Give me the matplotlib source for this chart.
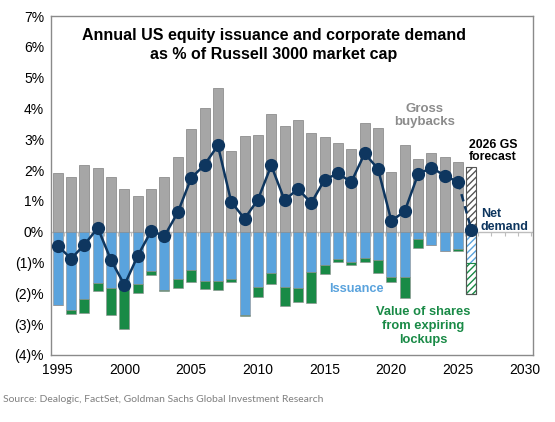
import numpy as np
import matplotlib.pyplot as plt

plt.rcParams['font.family'] = ['Liberation Sans', 'DejaVu Sans']

# data (% of Russell 3000 market cap)
years = list(range(1995, 2027))
buybacks = [1.91, 1.78, 2.18, 2.07, 1.78, 1.40, 1.15, 1.39, 1.76, 2.43,
            3.32, 4.00, 4.65, 2.61, 3.12, 3.15, 3.83, 3.43, 3.64, 3.21,
            3.06, 2.89, 2.67, 3.53, 3.38, 1.95, 2.80, 2.35, 2.54, 2.43,
            2.26, 2.11]
issuance = [2.38, 2.54, 2.19, 1.67, 1.83, 1.83, 1.70, 1.27, 1.89, 1.54,
            1.24, 1.59, 1.59, 1.54, 2.69, 1.81, 1.35, 1.81, 1.84, 1.31,
            1.07, 0.89, 0.97, 0.86, 0.93, 1.48, 1.46, 0.24, 0.43, 0.62,
            0.56, 1.02]
lockups = [0.00, 0.14, 0.44, 0.27, 0.87, 1.32, 0.30, 0.15, 0.04, 0.29,
           0.39, 0.27, 0.29, 0.10, 0.05, 0.32, 0.35, 0.61, 0.43, 0.99,
           0.30, 0.09, 0.10, 0.14, 0.40, 0.15, 0.70, 0.28, 0.00, 0.00,
           0.06, 1.00]
net_demand = [-0.45, -0.88, -0.42, 0.12, -0.93, -1.73, -0.78, 0.02, -0.14, 0.63,
              1.74, 2.17, 2.80, 0.97, 0.42, 1.04, 2.15, 1.02, 1.39, 0.93,
              1.69, 1.89, 1.61, 2.54, 2.04, 0.35, 0.66, 1.86, 2.08, 1.82,
              1.61, 0.06]

yticks = list(range(-4, 8))
ylabels = ['(%d)%%' % -v if v < 0 else '%d%%' % v for v in yticks]
xticks = [1995, 2000, 2005, 2010, 2015, 2020, 2025, 2030]

grey = '#A6A6A6'
blue = '#5AA3DD'
green = '#198A46'
navy = '#0E365F'

x = np.array(years)
buy = np.array(buybacks)
iss = -np.array(issuance)
lock = -np.array(lockups)
hist = x < 2026
fc = x == 2026

fig = plt.figure(figsize=(5.55, 4.22), dpi=100)
ax = fig.add_axes([0.092, 0.159, 0.868, 0.803])

w = 0.75
ax.bar(x[hist], buy[hist], w, color=grey, edgecolor='#8E8E8E', linewidth=0.6, zorder=2)
ax.bar(x[hist], iss[hist], w, color=blue, edgecolor='#8E8E8E', linewidth=0.4, zorder=2)
ax.bar(x[hist], lock[hist], w, bottom=iss[hist], color=green, edgecolor='#8E8E8E',
       linewidth=0.4, zorder=2)

# 2026 forecast, hatched
ax.bar(x[fc], buy[fc], w, color='white', edgecolor='#555555', hatch='/////',
       linewidth=0.8, zorder=2)
ax.bar(x[fc], iss[fc], w, color='white', edgecolor=blue, hatch='/////',
       linewidth=0.8, zorder=2)
ax.bar(x[fc], lock[fc], w, bottom=iss[fc], color='white', edgecolor=green,
       hatch='/////', linewidth=0.8, zorder=2)
ax.bar(x[fc], iss[fc] + lock[fc], w, fill=False, edgecolor='#555555', linewidth=0.8,
       zorder=3)

nd = np.array(net_demand)
ax.plot(x[hist], nd[hist], color=navy, lw=1.8, marker='o', ms=8.5, zorder=4)
ax.plot(x[-2:], nd[-2:], color=navy, lw=1.8, ls=(0, (3, 2)), zorder=4)
ax.plot(x[fc], nd[fc], color=navy, marker='o', ms=8.5, ls='none', zorder=5)

ax.axhline(0, color='#BDBDBD', lw=1, zorder=1)

# small ticks along the zero line between categories
zero_axis = ax.secondary_xaxis(4 / 11)
zero_axis.set_xticks(np.arange(1994.5, 2031, 1))
zero_axis.tick_params(axis='x', direction='out', length=3, width=0.8,
                      color='#BDBDBD', labelbottom=False, labeltop=False)
zero_axis.spines['bottom'].set_visible(False)
zero_axis.spines['top'].set_visible(False)

ax.set_xlim(1994.5, 2030.6)
ax.set_ylim(-4, 7)
ax.set_yticks(yticks)
ax.set_yticklabels(ylabels)
ax.set_xticks(xticks)
ax.tick_params(axis='both', length=0, labelsize=10, colors='black')
ax.tick_params(axis='x', pad=6)
ax.tick_params(axis='y', pad=5)
for sp in ax.spines.values():
    sp.set_color('#8A8A8A')
    sp.set_linewidth(1)

ax.text(2011.2, 6.07, 'Annual US equity issuance and corporate demand\nas % of Russell 3000 market cap',
        ha='center', va='center', fontsize=11.5, fontweight='bold', linespacing=1.35)

ax.text(2022.5, 3.78, 'Gross\nbuybacks', ha='center', va='center', fontsize=9.5,
        fontweight='bold', color='#8C8C8C', linespacing=1.1)
ax.text(2025.8, 2.62, '2026 GS\nforecast', ha='left', va='center', fontsize=8.8,
        fontweight='bold', color='black', linespacing=1.1)
ax.text(2026.7, 0.37, 'Net\ndemand', ha='left', va='center', fontsize=9,
        fontweight='bold', color=navy, linespacing=1.1)
ax.text(2017.4, -1.86, 'Issuance', ha='center', va='center', fontsize=9.2,
        fontweight='bold', color=blue)
ax.text(2022.4, -3.06, 'Value of shares\nfrom expiring\nlockups', ha='center',
        va='center', fontsize=9.3, fontweight='bold', color=green, linespacing=1.2)

fig.text(0.006, 0.047, 'Source: Dealogic, FactSet, Goldman Sachs Global Investment Research',
         fontsize=7.5, color='#808080', family=['Lato', 'DejaVu Sans'])

fig.savefig('out.png', dpi=100)
